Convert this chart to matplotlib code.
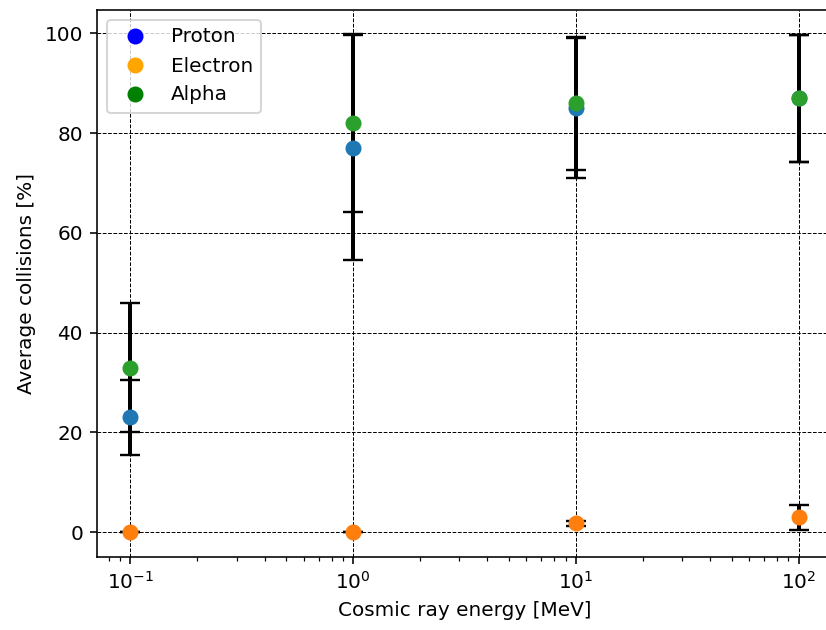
import numpy as np
import matplotlib
matplotlib.use('Agg')
import matplotlib.pyplot as plt
from matplotlib.lines import Line2D

# energies [MeV]
energy = [0.1, 1, 10, 100]

proton = [23, 77.1, 85, 87]
proton_err = [7.5, 22.5, 14, 12.7]

electron = [0, 0, 1.8, 3]
electron_err = [0, 0, 0.5, 2.5]

alpha = [33, 82, 86, 87]
alpha_err = [13, 17.8, 13.3, 12.7]

names = ['Proton', 'Electron', 'Alpha']
legend_colors = ['blue', 'orange', 'green']

dpi = 144
fig = plt.figure(figsize=(826/dpi, 630/dpi), dpi=dpi)
ax = fig.add_axes([97/826, 73/630, 735/826, 547.5/630])

for vals, errs in [(proton, proton_err), (electron, electron_err), (alpha, alpha_err)]:
    ax.errorbar(energy, vals, yerr=errs, fmt='o', markersize=7,
                ecolor='k', elinewidth=2, capsize=5, capthick=1.2)

ax.set_xscale('log')
ax.grid(color='k', linestyle='--', linewidth=0.5)
ax.set_xlabel('Cosmic ray energy [MeV]')
ax.set_ylabel('Average collisions [%]')

handles = [Line2D([0], [0], marker='o', color='w', markerfacecolor=c,
                  markeredgecolor=c, markersize=7) for c in legend_colors]
ax.legend(handles, names, loc='upper left')

fig.savefig('out.png', dpi=dpi)
